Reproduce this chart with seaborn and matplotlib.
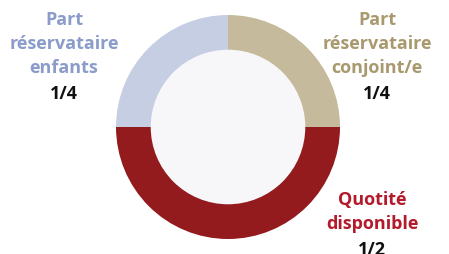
import matplotlib
matplotlib.use("Agg")
import matplotlib.pyplot as plt
import seaborn as sns

# parts of the estate
labels = ["Part\nréservataire\nconjoint/e", "Quotité\ndisponible", "Part\nréservataire\nenfants"]
fractions = ["1/4", "1/2", "1/4"]
shares = [0.25, 0.5, 0.25]
colors = ["#c5bb9c", "#931b1e", "#c5cee3"]
text_colors = ["#a8996f", "#b31b2c", "#8b9bca"]

sns.set_theme(style="white")
plt.rcParams['font.family'] = ['Open Sans', 'DejaVu Sans']

W, H = 449, 254
fig = plt.figure(figsize=(W / 100, H / 100), dpi=100)

cx, cy, r = 228, 127, 112
ax = fig.add_axes([(cx - r) / W, (H - cy - r) / H, 2 * r / W, 2 * r / H])
ax.pie(shares, colors=colors, startangle=90, counterclock=False,
       wedgeprops=dict(width=0.31, linewidth=0), radius=1)
ax.add_patch(plt.Circle((0, 0), 0.69, color="#f7f7fa", zorder=0))
ax.set_xlim(-1, 1)
ax.set_ylim(-1, 1)
ax.set_aspect("equal")
ax.axis("off")

# label positions in pixels (centre x, y of first line)
pos = [(377, 20), (372, 200), (64, 20)]
step = 24
for (x, y), lab, frac, tc in zip(pos, labels, fractions, text_colors):
    lines = lab.split("\n")
    for i, line in enumerate(lines):
        fig.text(x / W, 1 - (y + i * step) / H, line, ha="center", va="center",
                 fontsize=13, fontweight="bold", color=tc)
    fig.text(x / W, 1 - (y + len(lines) * step + 2) / H, frac, ha="center", va="center",
             fontsize=13, fontweight="bold", color="#111111")

fig.savefig("out.png", dpi=100)
